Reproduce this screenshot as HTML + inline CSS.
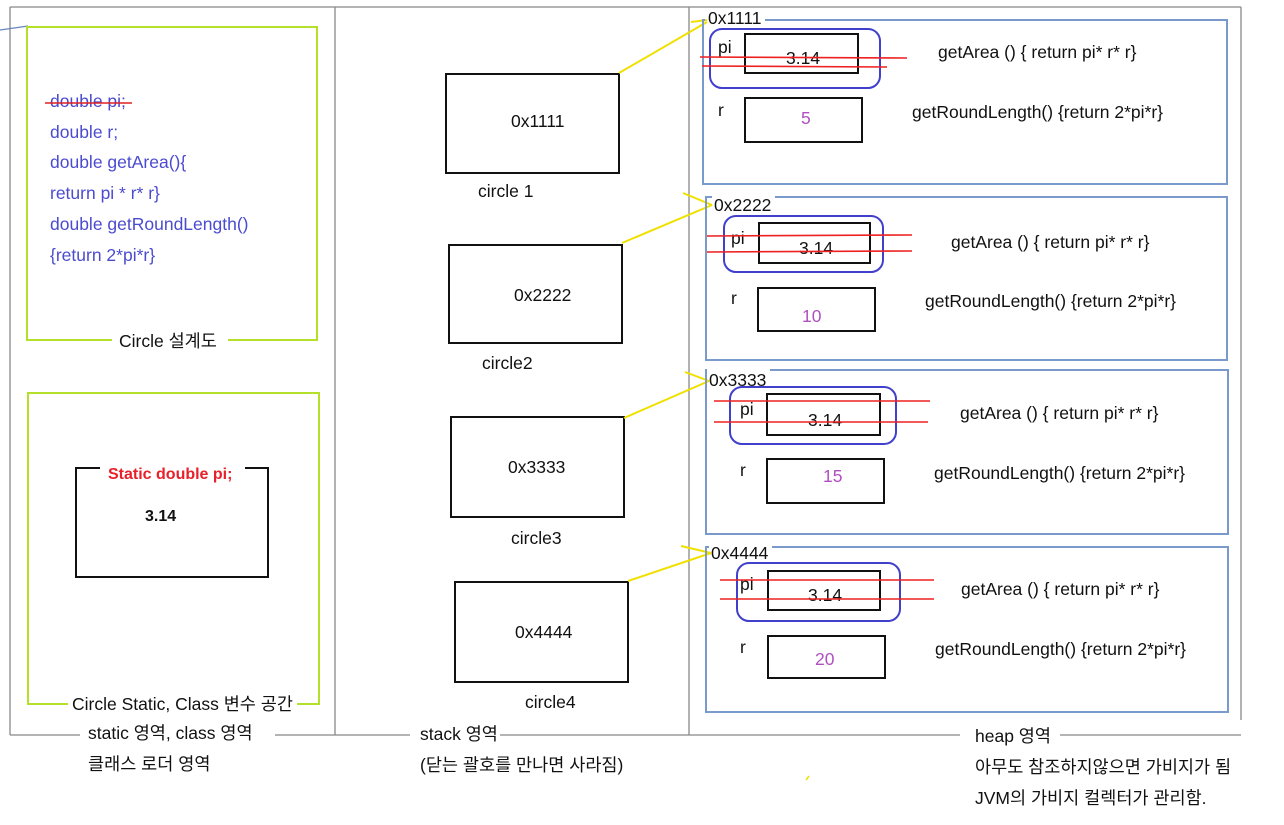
<!DOCTYPE html>
<html><head><meta charset="utf-8"><style>
html,body{margin:0;padding:0;background:#fff}
svg{display:block}
text{font-family:"Liberation Sans","Noto Sans CJK KR",sans-serif;font-size:17.5px;fill:#111}
.c{fill:#4b4bd0}
.p{fill:#b050c0}
</style></head><body>
<svg width="1284" height="825" viewBox="0 0 1284 825" xmlns="http://www.w3.org/2000/svg">
<g stroke="#888" stroke-width="1.3" fill="none">
<line x1="10" y1="7" x2="1241" y2="7"/>
<line x1="10" y1="7" x2="10" y2="735"/>
<line x1="335" y1="7" x2="335" y2="735"/>
<line x1="689" y1="7" x2="689" y2="735"/>
<line x1="1241" y1="7" x2="1241" y2="720"/>
<line x1="10" y1="735" x2="80" y2="735"/>
<line x1="275" y1="735" x2="410" y2="735"/>
<line x1="500" y1="735" x2="960" y2="735"/>
<line x1="1060" y1="735" x2="1241" y2="735"/>
</g>
<line x1="0" y1="30" x2="28" y2="26" stroke="#6688bb" stroke-width="1.3"/>
<g stroke="#b5e02a" stroke-width="2" fill="none">
<polyline points="112,340 27,340 27,27 317,27 317,340 228,340"/>
<polyline points="68,704 28,704 28,393 319,393 319,704 297,704"/>
</g>
<text x="119" y="347">Circle 설계도</text>
<text x="72" y="710">Circle Static, Class 변수 공간</text>
<text x="50" y="107" class="c">double pi;</text>
<text x="50" y="138" class="c">double r;</text>
<text x="50" y="168" class="c">double getArea(){</text>
<text x="50" y="199" class="c">return pi * r* r}</text>
<text x="50" y="230" class="c">double getRoundLength()</text>
<text x="50" y="261" class="c">{return 2*pi*r}</text>
<line x1="45" y1="103" x2="132" y2="103" stroke="#e02020" stroke-width="1.5"/>
<polyline points="100,468 76,468 76,577 268,577 268,468 245,468" stroke="#111" stroke-width="2" fill="none"/>
<text x="108" y="479" style="fill:#e8202a;font-weight:bold;font-size:16px">Static double pi;</text>
<text x="145" y="521" style="font-weight:bold;font-size:16px">3.14</text>
<g stroke="#111" stroke-width="2" fill="none">
<rect x="446" y="74" width="173" height="99"/>
<rect x="449" y="245" width="173" height="98"/>
<rect x="451" y="417" width="173" height="100"/>
<rect x="455" y="582" width="173" height="100"/>
</g>
<text x="511" y="127">0x1111</text><text x="478" y="197">circle 1</text>
<text x="514" y="301">0x2222</text><text x="482" y="369">circle2</text>
<text x="508" y="473">0x3333</text><text x="511" y="544">circle3</text>
<text x="515" y="638">0x4444</text><text x="525" y="708">circle4</text>
<g stroke="#f0e000" stroke-width="2" fill="none">
<line x1="619" y1="73" x2="707" y2="22"/><line x1="691" y1="22" x2="707" y2="20"/>
<line x1="622" y1="243" x2="712" y2="205"/><line x1="683" y1="193" x2="712" y2="205"/>
<line x1="624" y1="418" x2="709" y2="381"/><line x1="685" y1="372" x2="709" y2="381"/>
<line x1="628" y1="581" x2="711" y2="553"/><line x1="681" y1="546" x2="711" y2="553"/>
</g>
<g stroke="#7a9acc" stroke-width="2" fill="none">
<polyline points="765,20 1227,20 1227,184 703,184 703,20 705,20"/>
<polyline points="775,197 1227,197 1227,360 706,360 706,197 712,197"/>
<polyline points="770,370 1228,370 1228,534 706,534 706,370 707,370"/>
<polyline points="772,547 1228,547 1228,712 706,712 706,547 709,547"/>
</g>
<text x="708" y="24">0x1111</text>
<text x="714" y="211">0x2222</text>
<text x="709" y="386">0x3333</text>
<text x="711" y="559">0x4444</text>
<g stroke="#4040cc" stroke-width="2" fill="none">
<rect x="710" y="29" width="170" height="59" rx="12"/>
<rect x="724" y="216" width="159" height="56" rx="12"/>
<rect x="730" y="387" width="166" height="57" rx="12"/>
<rect x="737" y="563" width="163" height="58" rx="12"/>
</g>
<g stroke="#111" stroke-width="2" fill="none">
<rect x="745" y="34" width="113" height="39"/><rect x="745" y="98" width="117" height="44"/>
<rect x="759" y="223" width="111" height="40"/><rect x="758" y="288" width="117" height="43"/>
<rect x="767" y="394" width="113" height="41"/><rect x="767" y="459" width="117" height="44"/>
<rect x="768" y="571" width="112" height="39"/><rect x="768" y="636" width="117" height="42"/>
</g>
<text x="718" y="53">pi</text><text x="786" y="64">3.14</text>
<text x="718" y="116">r</text><text x="801" y="124" class="p">5</text>
<text x="938" y="58">getArea () { return pi* r* r}</text>
<text x="912" y="118">getRoundLength() {return 2*pi*r}</text>
<text x="731" y="244">pi</text><text x="799" y="254">3.14</text>
<text x="731" y="304">r</text><text x="802" y="322" class="p">10</text>
<text x="951" y="248">getArea () { return pi* r* r}</text>
<text x="925" y="307">getRoundLength() {return 2*pi*r}</text>
<text x="740" y="415">pi</text><text x="808" y="426">3.14</text>
<text x="740" y="476">r</text><text x="823" y="482" class="p">15</text>
<text x="960" y="419">getArea () { return pi* r* r}</text>
<text x="934" y="479">getRoundLength() {return 2*pi*r}</text>
<text x="740" y="590">pi</text><text x="808" y="601">3.14</text>
<text x="740" y="653">r</text><text x="815" y="665" class="p">20</text>
<text x="961" y="595">getArea () { return pi* r* r}</text>
<text x="935" y="655">getRoundLength() {return 2*pi*r}</text>
<g stroke="#ee2020" stroke-width="1.6">
<line x1="700" y1="57" x2="907" y2="58"/><line x1="702" y1="66" x2="887" y2="67"/>
<line x1="707" y1="236" x2="912" y2="235"/><line x1="707" y1="252" x2="912" y2="251"/>
<line x1="714" y1="401" x2="930" y2="401"/><line x1="714" y1="422" x2="928" y2="422"/>
<line x1="720" y1="580" x2="934" y2="580"/><line x1="720" y1="599" x2="934" y2="599"/>
</g>
<text x="88" y="739">static 영역, class 영역</text>
<text x="88" y="770">클래스 로더 영역</text>
<text x="420" y="740">stack 영역</text>
<text x="420" y="771">(닫는 괄호를 만나면 사라짐)</text>
<text x="975" y="742">heap 영역</text>
<text x="975" y="773">아무도 참조하지않으면 가비지가 됨</text>
<text x="975" y="804">JVM의 가비지 컬렉터가 관리함.</text>
<line x1="806" y1="780" x2="809" y2="776" stroke="#f0e000" stroke-width="1.5"/>
</svg>
</body></html>
